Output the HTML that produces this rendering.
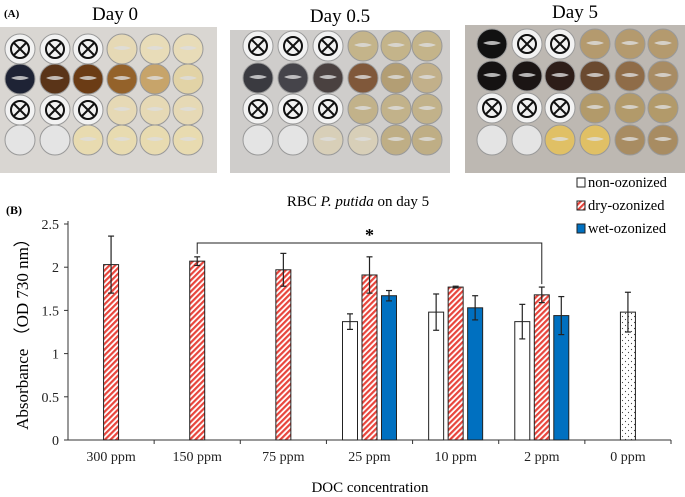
<!DOCTYPE html>
<html><head><meta charset="utf-8"><style>
body{margin:0;background:#fff;width:685px;height:497px;overflow:hidden;font-family:"Liberation Serif",serif}
svg{display:block}
</style></head><body>
<svg id="fig" width="685" height="497" viewBox="0 0 685 497" xmlns="http://www.w3.org/2000/svg">
<defs>
<pattern id="hatch" width="4" height="4" patternUnits="userSpaceOnUse" patternTransform="rotate(45)">
<rect width="4" height="4" fill="#fff"/><rect width="2.2" height="4" fill="#e8453c"/></pattern>
<pattern id="dots" width="6" height="6" patternUnits="userSpaceOnUse">
<rect width="6" height="6" fill="#fff"/><circle cx="1.5" cy="1.5" r="0.6" fill="#444"/><circle cx="4.5" cy="4.5" r="0.6" fill="#444"/></pattern>
</defs>
<text x="4" y="17" font-size="11" font-weight="bold">(A)</text>
<text x="115" y="20" font-size="19" text-anchor="middle">Day 0</text>
<text x="340" y="22" font-size="19" text-anchor="middle">Day 0.5</text>
<text x="575" y="18" font-size="19" text-anchor="middle">Day 5</text>
<g id="photos"></g>
<g id="chart"></g>
</svg>
<script>
const NS="http://www.w3.org/2000/svg";
function mk(tag,attrs,parent){const e=document.createElementNS(NS,tag);for(const k in attrs)e.setAttribute(k,attrs[k]);parent.appendChild(e);return e;}
// ---- plate photos ----
const photos=document.getElementById('photos');
const plates=[
 {x:0,y:27,w:217,h:146,bg:"#d9d6d2",cols:[20,55,88,122,155,188],rows:[49,79,110,140],
  c:[["X","X","X","#e6d9b5","#e8dcb8","#e8dcb8"],["#1e2335","#5a3418","#6b3c15","#94622a","#c7a46a","#e2d3a6"],["X","X","X","#e6d9b5","#e6d9b5","#e6d9b5"],["E","E","#e8dbb0","#e8dbb0","#e8dbb0","#e8dbb0"]]},
 {x:230,y:30,w:220,h:143,bg:"#cfcdcb",cols:[258,293,328,363,396,427],rows:[46,78,109,140],
  c:[["X","X","X","#c4b48a","#c4b48a","#c4b48a"],["#3a3a40","#45444a","#4a4140","#80583a","#b39e74","#c2b08a"],["X","X","X","#c2b28a","#c2b28a","#c2b28a"],["E","E","#d8cfb8","#d8cfb8","#bfae85","#bfae85"]]},
 {x:465,y:25,w:220,h:148,bg:"#bdb8b2",cols:[492,527,560,595,630,663],rows:[44,76,108,140],
  c:[["#111","X","X","#b49a6e","#b49a6e","#b49a6e"],["#151212","#1b1514","#2d1d18","#6a4a30","#8f6c48","#a88c64"],["X","X","X","#b29a6a","#b29a6a","#b29a6a"],["E","E","#e0c065","#e0c065","#a88c62","#a88c62"]]}
];
plates.forEach((p,pi)=>{
 const g=mk('g',{},photos);
 
 
 mk('rect',{x:p.x,y:p.y,width:p.w,height:p.h,fill:p.bg},g);
 p.rows.forEach((ry,r)=>p.cols.forEach((cx,c)=>{
  const v=p.c[r][c];
  const fill=v==="X"?"#f2f2f2":v==="E"?"#e4e4e4":v;
  const w=mk('ellipse',{cx:cx,cy:ry,rx:15,ry:15,fill:fill,stroke:"#999","stroke-width":1},g);
  
  
  if(v==="X"){
   mk('circle',{cx:cx,cy:ry,r:9,fill:"none",stroke:"#111","stroke-width":2},g);
   mk('path',{d:`M${cx-6} ${ry-6}L${cx+6} ${ry+6}M${cx+6} ${ry-6}L${cx-6} ${ry+6}`,stroke:"#111","stroke-width":2},g);
  } else if(v!=="E"){
   mk('path',{d:`M${cx-9} ${ry-1}Q${cx} ${ry-5} ${cx+9} ${ry-1}Q${cx} ${ry+3} ${cx-9} ${ry-1}`,fill:"#ddd",opacity:0.8},g);
  }
 }));
});
// ---- chart data ----
const categories=["300 ppm","150 ppm","75 ppm","25 ppm","10 ppm","2 ppm","0 ppm"];
const nonVals=[null,null,null,1.37,1.48,1.37,null];
const nonErr=[null,null,null,0.09,0.21,0.20,null];
const dryVals=[2.03,2.07,1.97,1.91,1.77,1.68,null];
const dryErr=[0.33,0.05,0.19,0.21,0.01,0.09,null];
const wetVals=[null,null,null,1.67,1.53,1.44,null];
const wetErr=[null,null,null,0.06,0.14,0.22,null];
const ctrlVals=[null,null,null,null,null,null,1.48];
const ctrlErr=[null,null,null,null,null,null,0.23];
const yTicks=[0,0.5,1,1.5,2,2.5];
const yTickLabels=["0","0.5","1","1.5","2","2.5"];
// ---- axes ----
const X0=68,X1=671,Y0=440,Y1=224,YMAX=2.5;
const bw=(X1-X0)/categories.length;
const y=v=>Y0-(v/YMAX)*(Y0-Y1);
const xc=i=>X0+bw*(i+0.5);
const ch=document.getElementById('chart');
const t=(s,a)=>{const e=mk('text',a,ch);e.textContent=s;return e;};
let e;
e=t("(B)",{x:6,y:214,"font-size":12,"font-weight":"bold"});
e=mk('text',{x:358,y:206,"font-size":15,"text-anchor":"middle"},ch);
e.innerHTML='RBC <tspan font-style="italic">P. putida</tspan> on day 5';

e=mk('line',{x1:X0,y1:Y1-3,x2:X0,y2:Y0,stroke:"#333","stroke-width":1},ch);
e=mk('line',{x1:X0,y1:Y0,x2:X1,y2:Y0,stroke:"#333","stroke-width":1},ch);
yTicks.forEach((v,i)=>{
 mk('line',{x1:X0-4,y1:y(v),x2:X0,y2:y(v),stroke:"#333"},ch);
 e=t(yTickLabels[i],{x:X0-9,y:y(v)+5,"font-size":14,"text-anchor":"end",fill:"#222"});
 
});
categories.forEach((c,i)=>{
 mk('line',{x1:X0+bw*(i+1),y1:Y0,x2:X0+bw*(i+1),y2:Y0+4,stroke:"#333"},ch);
 e=t(c,{x:xc(i),y:461,"font-size":14,"text-anchor":"middle",fill:"#222"});
 
});
e=t("DOC concentration",{x:370,y:492,"font-size":15,"text-anchor":"middle"});
e=t("Absorbance （OD 730 nm）",{x:0,y:0,"font-size":17,"text-anchor":"middle",transform:"translate(28,330) rotate(-90)"});
// ---- bars ----
const BW=15,GAP=4.5;
const series=[
 {v:nonVals,e:nonErr,off:-1,fill:"#fff",name:"bar-non-ozonized"},
 {v:dryVals,e:dryErr,off:0,fill:"url(#hatch)",name:"bar-dry-ozonized"},
 {v:wetVals,e:wetErr,off:1,fill:"#0070c0",name:"bar-wet-ozonized"},
 {v:ctrlVals,e:ctrlErr,off:0,fill:"url(#dots)",name:"bar-control"}
];
series.forEach(s=>s.v.forEach((v,i)=>{
 if(v==null)return;
 const cx=xc(i)+s.off*(BW+GAP);
 const b=mk('rect',{x:cx-BW/2,y:y(v),width:BW,height:Y0-y(v),fill:s.fill,stroke:"#222","stroke-width":1},ch);
 
 
 const er=s.e[i];
 const g=mk('g',{stroke:"#222","stroke-width":1.2},ch);
 
 
 mk('line',{x1:cx,y1:y(v+er),x2:cx,y2:y(v-er)},g);
 mk('line',{x1:cx-3,y1:y(v+er),x2:cx+3,y2:y(v+er)},g);
 mk('line',{x1:cx-3,y1:y(v-er),x2:cx+3,y2:y(v-er)},g);
}));
// ---- significance bracket ----
const bi=1,bj=5;
const by=243;
e=mk('path',{d:`M${xc(bi)} ${y(dryVals[bi]+dryErr[bi])-3}V${by}H${xc(bj)}V${y(dryVals[bj]+dryErr[bj])-3}`,fill:"none",stroke:"#222","stroke-width":1},ch);

e=t("*",{x:(xc(bi)+xc(bj))/2,y:241,"font-size":18,"font-weight":"bold","text-anchor":"middle"});

// ---- legend ----
const legend=[["non-ozonized","#fff"],["dry-ozonized","url(#hatch)"],["wet-ozonized","#0070c0"]];
legend.forEach((l,i)=>{
 const g=mk('g',{},ch);
 
 
 const ly=187+i*23;
 mk('rect',{x:577,y:ly-9,width:8,height:9,fill:l[1],stroke:"#222","stroke-width":1},g);
 const tx=mk('text',{x:588,y:ly,"font-size":14.5},g);tx.textContent=l[0];
});
</script>
</body></html>
